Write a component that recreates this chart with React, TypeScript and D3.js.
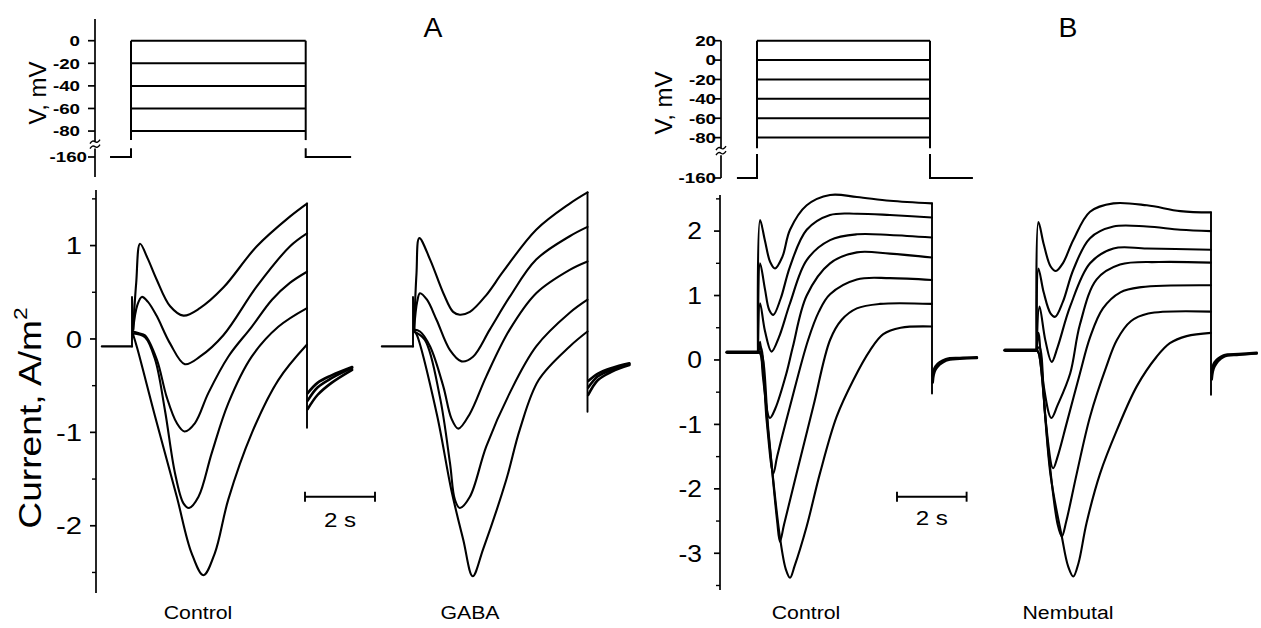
import React from "react";
import * as d3 from "d3";

type Pt = [number, number];

// ---------- voltage protocols (mV) ----------
const vLevelsA = [0, -20, -40, -60, -80];
const vLevelsB = [20, 0, -20, -40, -60, -80];
const vHold = -160;
const vTicksA = [0, -20, -40, -60, -80, -160];
const vTicksB = [20, 0, -20, -40, -60, -80, -160];
const holdSpanA = [-0.6, 6.3];
const holdSpanB = [-0.58, 6.24];

// ---------- current axes (A/m^2) ----------
const iTicksA = [1, 0, -1, -2];
const iMinorA = [1.5, 0.5, -0.5, -1.5, -2.5];
const iTicksB = [2, 1, 0, -1, -2, -3];
const iMinorB = [2.5, 1.5, 0.5, -0.5, -1.5, -2.5, -3.5];

// ---------- Panel A, Control: [time s, current A/m^2] ----------
const ctrlA: Pt[][] = [
  [[0.03, 0.1], [0.12, 0.6], [0.23, 1.02], [0.45, 0.86], [0.7, 0.64], [1.09, 0.35], [1.47, 0.25], [1.94, 0.33], [2.61, 0.55], [3.56, 0.99], [4.51, 1.31], [5, 1.45]],
  [[0.03, 0.1], [0.15, 0.36], [0.28, 0.45], [0.45, 0.4], [0.7, 0.25], [1.09, -0.05], [1.51, -0.27], [1.94, -0.19], [2.61, 0.04], [3.56, 0.56], [4.51, 0.99], [5, 1.13]],
  [[0.03, 0.08], [0.2, 0.06], [0.37, 0.04], [0.71, -0.22], [0.99, -0.62], [1.28, -0.9], [1.5, -0.99], [1.8, -0.9], [2.18, -0.58], [2.75, -0.19], [3.42, 0.13], [4.0, 0.42], [4.51, 0.6], [5, 0.72]],
  [[0.03, 0.06], [0.37, 0.02], [0.66, -0.22], [0.94, -0.76], [1.23, -1.44], [1.47, -1.76], [1.63, -1.81], [1.9, -1.69], [2.28, -1.22], [2.75, -0.69], [3.42, -0.19], [4.18, 0.13], [5, 0.33]],
  [[0.03, 0.05], [0.15, -0.1], [0.66, -0.83], [1.28, -1.69], [1.7, -2.29], [2.04, -2.53], [2.37, -2.29], [2.75, -1.72], [3.42, -1.01], [4.18, -0.44], [5, -0.06]],
];
const baseCtrlA: Pt[] = [[-0.86, -0.08], [0, -0.08]];
const spikeCtrlA: Pt[] = [[0, -0.08], [0, 0.45], [0.04, 0.1]];
const endCtrlA: Pt[] = [[5, 1.45], [5, -0.95]];
const tailsCtrlA: Pt[][] = [
  [[5.02, -0.58], [5.3, -0.47], [5.7, -0.39], [6.29, -0.3]],
  [[5.02, -0.66], [5.3, -0.52], [5.7, -0.42], [6.29, -0.31]],
  [[5.02, -0.75], [5.3, -0.6], [5.7, -0.47], [6.29, -0.33]],
];

// ---------- Panel A, GABA ----------
const gabaA: Pt[][] = [
  [[0.03, 0.1], [0.1, 0.7], [0.18, 1.08], [0.49, 0.85], [0.87, 0.49], [1.15, 0.29], [1.34, 0.26], [1.63, 0.29], [2.1, 0.47], [2.58, 0.72], [3.53, 1.17], [4.49, 1.45], [5, 1.57]],
  [[0.03, 0.1], [0.12, 0.4], [0.2, 0.49], [0.4, 0.42], [0.68, 0.2], [1.06, -0.12], [1.39, -0.24], [1.72, -0.19], [2.2, 0.1], [2.77, 0.45], [3.53, 0.85], [4.49, 1.1], [5, 1.2]],
  [[0.03, 0.1], [0.2, 0.08], [0.49, -0.08], [0.87, -0.51], [1.1, -0.85], [1.3, -0.96], [1.63, -0.8], [2.1, -0.4], [2.77, 0.1], [3.53, 0.49], [4.49, 0.74], [5, 0.83]],
  [[0.03, 0.08], [0.34, -0.01], [0.77, -0.62], [1.06, -1.33], [1.2, -1.72], [1.34, -1.81], [1.63, -1.69], [2.1, -1.15], [2.77, -0.58], [3.53, -0.08], [4.49, 0.28], [5, 0.42]],
  [[0.03, 0.08], [0.1, 0.05], [0.68, -0.8], [1.1, -1.62], [1.44, -2.15], [1.71, -2.54], [2.01, -2.25], [2.67, -1.51], [3.06, -0.97], [3.6, -0.44], [4.49, -0.08], [5, 0.08]],
];
const baseGabaA: Pt[] = [[-0.89, -0.08], [0, -0.08]];
const spikeGabaA: Pt[] = [[0, -0.08], [0, 0.45], [0.04, 0.1]];
const endGabaA: Pt[] = [[5, 1.57], [5, -0.78]];
const tailsGabaA: Pt[][] = [
  [[5.02, -0.45], [5.3, -0.37], [5.7, -0.31], [6.2, -0.26]],
  [[5.02, -0.52], [5.3, -0.4], [5.7, -0.33], [6.2, -0.27]],
  [[5.02, -0.6], [5.3, -0.44], [5.7, -0.35], [6.2, -0.28]],
];

// ---------- Panel B, Control ----------
const ctrlB: Pt[][] = [
  [[0, 0.12], [0.06, 2.17], [0.2, 1.85], [0.35, 1.52], [0.49, 1.42], [0.7, 1.6], [0.92, 2.02], [1.4, 2.4], [2.07, 2.56], [2.84, 2.53], [3.79, 2.47], [5, 2.43]],
  [[0, 0.12], [0.06, 1.5], [0.2, 1.1], [0.32, 0.78], [0.44, 0.7], [0.65, 0.95], [0.92, 1.45], [1.4, 2.02], [2.07, 2.25], [2.84, 2.27], [3.79, 2.25], [5, 2.21]],
  [[0, 0.12], [0.06, 0.88], [0.2, 0.45], [0.39, 0.13], [0.6, 0.35], [0.92, 0.88], [1.4, 1.55], [2.07, 1.86], [2.84, 1.95], [3.79, 1.94], [5, 1.9]],
  [[0, 0.12], [0.06, 0.28], [0.15, -0.3], [0.34, -0.9], [0.5, -0.75], [0.82, -0.2], [1.0, 0.2], [1.4, 1.0], [2.07, 1.5], [2.84, 1.67], [3.79, 1.65], [5, 1.59]],
  [[0, 0.12], [0.08, 0.2], [0.25, -0.95], [0.44, -1.76], [0.55, -1.5], [0.92, -0.72], [1.44, 0.31], [1.75, 0.75], [2.07, 1.02], [2.84, 1.25], [3.79, 1.27], [5, 1.24]],
  [[0, 0.12], [0.08, 0.12], [0.3, -1.1], [0.55, -2.5], [0.63, -2.82], [0.75, -2.55], [1.11, -1.76], [1.59, -0.72], [2.07, 0.31], [2.4, 0.62], [2.84, 0.8], [3.5, 0.87], [5, 0.87]],
  [[0, 0.12], [0.06, 0.1], [0.3, -1.15], [0.63, -2.75], [0.8, -3.25], [0.92, -3.38], [1.05, -3.2], [1.4, -2.58], [1.78, -1.76], [2.26, -0.88], [2.74, -0.31], [3.22, 0.15], [3.6, 0.4], [4.1, 0.5], [5, 0.52]],
];
const baseCtrlB: Pt[] = [[-0.89, 0.12], [0, 0.12]];
const endCtrlB: Pt[] = [[5, 2.43], [5, -0.52]];
const tailsCtrlB: Pt[][] = [
  [[5.02, -0.35], [5.1, -0.15], [5.4, -0.01], [5.8, 0.02], [6.29, 0.03]],
  [[5.02, -0.25], [5.1, -0.1], [5.4, 0.01], [5.8, 0.03], [6.29, 0.04]],
];

// ---------- Panel B, Nembutal ----------
const nembB: Pt[][] = [
  [[0, 0.15], [0.05, 2.14], [0.2, 1.8], [0.4, 1.45], [0.55, 1.38], [0.75, 1.5], [1.05, 1.86], [1.53, 2.3], [2.2, 2.43], [3.16, 2.4], [4.12, 2.31], [5, 2.29]],
  [[0, 0.15], [0.05, 1.42], [0.2, 1.05], [0.4, 0.72], [0.53, 0.67], [0.75, 0.9], [1.05, 1.4], [1.53, 1.89], [2.2, 2.07], [3.16, 2.07], [4.12, 2.02], [5, 2.0]],
  [[0, 0.15], [0.08, 0.83], [0.25, 0.3], [0.43, -0.03], [0.6, 0.2], [0.96, 0.83], [1.53, 1.5], [2.2, 1.73], [3.16, 1.73], [5, 1.71]],
  [[0, 0.15], [0.05, 0.42], [0.2, -0.4], [0.42, -0.9], [0.6, -0.7], [0.96, -0.21], [1.24, 0.55], [1.72, 1.25], [2.39, 1.48], [3.5, 1.52], [5, 1.51]],
  [[0, 0.15], [0.08, 0.2], [0.25, -0.9], [0.47, -1.68], [0.6, -1.5], [0.86, -0.98], [1.24, -0.21], [1.53, 0.35], [1.9, 0.8], [2.4, 1.05], [3.0, 1.13], [5, 1.16]],
  [[0, 0.15], [0.06, 0.1], [0.35, -1.5], [0.6, -2.55], [0.72, -2.74], [0.85, -2.5], [1.15, -1.76], [1.53, -0.88], [2.0, -0.1], [2.3, 0.31], [2.7, 0.6], [3.2, 0.72], [5, 0.75]],
  [[0, 0.15], [0.06, 0.1], [0.4, -1.8], [0.72, -2.74], [0.9, -3.2], [1.05, -3.36], [1.2, -3.15], [1.43, -2.53], [1.82, -1.76], [2.3, -1.09], [2.87, -0.41], [3.44, 0.05], [3.82, 0.26], [4.3, 0.37], [5, 0.42]],
];
const baseNembB: Pt[] = [[-0.91, 0.15], [0, 0.15]];
const endNembB: Pt[] = [[5, 2.29], [5, -0.54]];
const tailsNembB: Pt[][] = [
  [[5.02, -0.3], [5.1, -0.1], [5.36, 0.05], [5.8, 0.08], [6.31, 0.1]],
  [[5.02, -0.2], [5.1, -0.04], [5.36, 0.07], [5.8, 0.09], [6.31, 0.11]],
];

const panelLabels = ["Control", "GABA", "Control", "Nembutal"];
const FONT = "'Liberation Sans', Arial, Helvetica, sans-serif";

type TxtProps = {
  x: number; y: number; size: number; sx?: number; rot?: number;
  anchor?: "start" | "middle" | "end"; weight?: string; children: React.ReactNode; dy?: string;
};
const Txt = ({ x, y, size, sx = 1, rot = 0, anchor = "middle", weight = "normal", children, dy }: TxtProps) => (
  <text
    transform={`translate(${x},${y}) rotate(${rot}) scale(${sx},1)`}
    fontSize={size}
    fontFamily={FONT}
    fontWeight={weight}
    textAnchor={anchor}
    dy={dy}
    fill="#000"
    stroke="none"
  >
    {children}
  </text>
);

export default function App() {
  // voltage scales (broken axis)
  const vA = d3.scaleLinear().domain([-160, -95, 0]).range([157, 148, 40.7]);
  const vB = d3.scaleLinear().domain([-160, -100, 20]).range([178, 157, 40.7]);
  const tVA = d3.scaleLinear().domain([0, 5]).range([131, 305.7]);
  const tVB = d3.scaleLinear().domain([0, 5]).range([757, 930]);

  // current scales
  const iA = d3.scaleLinear().domain([1.595, -2.72]).range([190, 593]);
  const iB = d3.scaleLinear().domain([2.56, -3.57]).range([195, 590]);

  const panels = [
    { tx: d3.scaleLinear().domain([0, 5]).range([132, 307]), iy: iA, traces: ctrlA, base: baseCtrlA, spike: spikeCtrlA, end: endCtrlA, tails: tailsCtrlA },
    { tx: d3.scaleLinear().domain([0, 5]).range([413, 587.5]), iy: iA, traces: gabaA, base: baseGabaA, spike: spikeGabaA, end: endGabaA, tails: tailsGabaA },
    { tx: d3.scaleLinear().domain([0, 5]).range([758, 932]), iy: iB, traces: ctrlB, base: baseCtrlB, spike: [] as Pt[], end: endCtrlB, tails: tailsCtrlB },
    { tx: d3.scaleLinear().domain([0, 5]).range([1036.7, 1211]), iy: iB, traces: nembB, base: baseNembB, spike: [] as Pt[], end: endNembB, tails: tailsNembB },
  ];

  const voltPanels = [
    { v: vA, t: tVA, levels: vLevelsA, ticks: vTicksA, hold: holdSpanA, axisX: 95, axisTop: 19, axisBot: 177, gapUp: -88, gapLo: -96, brk: -92, labEnd: 80, labX: 46, labY: 93 },
    { v: vB, t: tVB, levels: vLevelsB, ticks: vTicksB, hold: holdSpanB, axisX: 721, axisTop: 40.7, axisBot: 178, gapUp: -91, gapLo: -97, brk: -94, labEnd: 716, labX: 672, labY: 103 },
  ];

  const curAxes = [
    { x: 96, top: 190, bot: 593, s: iA, major: iTicksA, minor: iMinorA, labEnd: 82, fs: 24, sx: 1.22 },
    { x: 720, top: 195, bot: 590, s: iB, major: iTicksB, minor: iMinorB, labEnd: 702, fs: 23, sx: 1.15 },
  ];

  const stroke = "#000";
  const tw = 2.1;

  return (
    <svg width={1261} height={628} style={{ position: "absolute", left: 0, top: 0, background: "#fff" }}>
      <rect x={0} y={0} width={1261} height={628} fill="#fff" />

      {/* panel letters */}
      <Txt x={433} y={37} size={27} sx={1.05}>A</Txt>
      <Txt x={1068} y={37} size={27} sx={1.05}>B</Txt>

      {/* voltage protocols */}
      {voltPanels.map((p, k) => {
        const top = d3.max(p.levels) as number;
        const x0 = p.t(0), x1 = p.t(5);
        const yb = p.v(p.brk);
        return (
          <g key={"vp" + k} fill="none" stroke={stroke}>
            <line x1={p.axisX} x2={p.axisX} y1={p.axisTop} y2={yb - 3} strokeWidth={1.7} />
            <line x1={p.axisX} x2={p.axisX} y1={yb + 4} y2={p.axisBot} strokeWidth={1.7} />
            <path d={`M${p.axisX - 5},${yb - 1} q2.5,-4 5,-2 t5,-2`} strokeWidth={1.4} />
            <path d={`M${p.axisX - 5},${yb + 4} q2.5,-4 5,-2 t5,-2`} strokeWidth={1.4} />
            {p.ticks.map((tv) => (
              <line key={tv} x1={p.axisX - 7} x2={p.axisX} y1={p.v(tv)} y2={p.v(tv)} strokeWidth={1.7} />
            ))}
            {p.levels.map((lv) => (
              <line key={"l" + lv} x1={x0} x2={x1} y1={p.v(lv)} y2={p.v(lv)} strokeWidth={2} />
            ))}
            <line x1={x0} x2={x0} y1={p.v(top)} y2={p.v(p.gapUp)} strokeWidth={2} />
            <line x1={x1} x2={x1} y1={p.v(top)} y2={p.v(p.gapUp)} strokeWidth={2} />
            <path d={`M${p.t(p.hold[0])},${p.v(vHold)}H${x0}V${p.v(p.gapLo)}`} strokeWidth={2} />
            <path d={`M${x1},${p.v(p.gapLo)}V${p.v(vHold)}H${p.t(p.hold[1])}`} strokeWidth={2} />
          </g>
        );
      })}
      {voltPanels.map((p, k) => (
        <g key={"vl" + k}>
          {p.ticks.map((tv) => (
            <Txt key={tv} x={tv === vHold && k === 0 ? p.labEnd + 7 : p.labEnd} y={p.v(tv)} dy="0.36em" size={15} sx={1.25} anchor="end" weight="bold">
              {String(tv)}
            </Txt>
          ))}
          <Txt x={p.labX} y={p.labY} size={24} rot={-90}>V, mV</Txt>
        </g>
      ))}

      {/* current axes */}
      {curAxes.map((a, k) => (
        <g key={"ca" + k}>
          <line x1={a.x} x2={a.x} y1={a.top} y2={a.bot} stroke={stroke} strokeWidth={1.7} />
          {a.major.map((v) => (
            <line key={"M" + v} x1={a.x - 6} x2={a.x} y1={a.s(v)} y2={a.s(v)} stroke={stroke} strokeWidth={1.7} />
          ))}
          {a.minor.map((v) => (
            <line key={"m" + v} x1={a.x - 4} x2={a.x} y1={a.s(v)} y2={a.s(v)} stroke={stroke} strokeWidth={1.4} />
          ))}
          {a.major.map((v) => (
            <Txt key={"t" + v} x={a.labEnd} y={a.s(v)} dy="0.36em" size={a.fs} sx={a.sx} anchor="end">
              {String(v)}
            </Txt>
          ))}
        </g>
      ))}
      <g transform="translate(41,418) rotate(-90)">
        <text x={0} y={0} fontSize={31} fontFamily={FONT} textAnchor="middle" transform="scale(1.2,1)">
          Current, A/m<tspan fontSize={19} dy={-14}>2</tspan>
        </text>
      </g>

      {/* current traces */}
      {panels.map((p, k) => {
        const smooth = d3.line<Pt>().x((d) => p.tx(d[0])).y((d) => p.iy(d[1])).curve(d3.curveCatmullRom.alpha(0.5));
        const lin = d3.line<Pt>().x((d) => p.tx(d[0])).y((d) => p.iy(d[1]));
        return (
          <g key={"p" + k} fill="none" stroke={stroke} strokeLinejoin="round" strokeLinecap="round">
            <path d={lin(p.base) || ""} strokeWidth={k >= 2 ? 3.6 : 2.3} />
            {p.spike.length > 0 && <path d={lin(p.spike) || ""} strokeWidth={1.9} />}
            {p.traces.map((tr, j) => (
              <path key={j} d={smooth(tr) || ""} strokeWidth={tw} />
            ))}
            <path d={lin(p.end) || ""} strokeWidth={1.9} />
            {p.tails.map((tr, j) => (
              <path key={"t" + j} d={smooth(tr) || ""} strokeWidth={2.6} />
            ))}
          </g>
        );
      })}

      {/* scale bars: 2 s */}
      {[panels[0], panels[2]].map((p, k) => {
        const x0 = p.tx(5) + (k === 0 ? -2 : -35);
        const w = p.tx(2) - p.tx(0);
        const y = 496.7;
        return (
          <g key={"sb" + k}>
            <g stroke={stroke} strokeWidth={1.9}>
              <line x1={x0} x2={x0 + w} y1={y} y2={y} />
              <line x1={x0} x2={x0} y1={y - 5} y2={y + 5} />
              <line x1={x0 + w} x2={x0 + w} y1={y - 5} y2={y + 5} />
            </g>
            <Txt x={x0 + w / 2} y={k === 0 ? 527 : 525} size={21} sx={1.15}>2 s</Txt>
          </g>
        );
      })}

      {/* condition labels */}
      {[198, 470, 806, 1068].map((cx, k) => (
        <Txt key={"lab" + k} x={cx} y={619} size={19} sx={1.12}>{panelLabels[k]}</Txt>
      ))}
    </svg>
  );
}
